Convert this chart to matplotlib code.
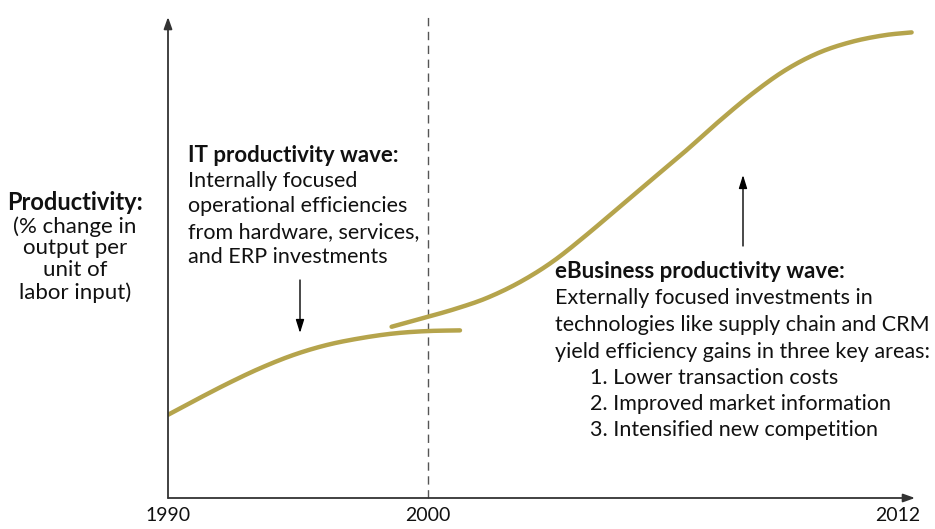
import matplotlib
matplotlib.use("Agg")
import matplotlib.pyplot as plt
import numpy as np

plt.rcParams['font.family'] = ['Lato', 'DejaVu Sans']

# --- data (x in position units: 1990 = 0, 2000 = 10, 2012 ~ 28) ---
it_x = [0.00, 0.97, 2.26, 3.54, 4.82, 6.10, 7.38, 8.67, 9.95, 11.23]
it_y = [17.3, 20.1, 23.7, 26.97, 29.73, 31.8, 33.2, 34.2, 34.7, 34.85]

eb_x = [8.60, 9.95, 11.10, 12.27, 13.54, 14.81, 16.12, 17.38, 18.65, 19.92,
        21.19, 22.46, 23.73, 25.00, 26.27, 27.54, 28.60]
eb_y = [35.6, 37.6, 39.4, 41.6, 44.9, 49.2, 54.8, 60.6, 66.4, 72.2,
        78.3, 84.0, 88.9, 92.5, 94.8, 96.2, 96.8]

tick_pos = [0, 10, 28.05]
tick_labels = ["1990", "2000", "2012"]

ylabel_lines = ["(% change in", "output per", "unit of", "labor input)"]
it_title = "IT productivity wave:"
it_lines = ["Internally focused", "operational efficiencies",
            "from hardware, services,", "and ERP investments"]
eb_title = "eBusiness productivity wave:"
eb_lines = ["Externally focused investments in",
            "technologies like supply chain and CRM",
            "yield efficiency gains in three key areas:"]
eb_items = ["1. Lower transaction costs", "2. Improved market information",
            "3. Intensified new competition"]


def smooth(xs, ys, n=20):
    """Catmull-Rom rendering through the read points (for drawing only)."""
    p = np.column_stack([xs, ys]).astype(float)
    p = np.vstack([2 * p[0] - p[1], p, 2 * p[-1] - p[-2]])
    out = []
    t = np.linspace(0, 1, n, endpoint=False)[:, None]
    for i in range(1, len(p) - 2):
        p0, p1, p2, p3 = p[i - 1], p[i], p[i + 1], p[i + 2]
        seg = 0.5 * ((2 * p1) + (-p0 + p2) * t +
                     (2 * p0 - 5 * p1 + 4 * p2 - p3) * t ** 2 +
                     (-p0 + 3 * p1 - 3 * p2 + p3) * t ** 3)
        out.append(seg)
    out.append(p[-2][None, :])
    out = np.vstack(out)
    return out[:, 0], out[:, 1]


curve_color = "#B5A44C"
txt = "#111111"
W, H = 935, 529
fig = plt.figure(figsize=(W / 100, H / 100), dpi=100)
ax = fig.add_axes([168 / W, (H - 498) / H, (915 - 168) / W, (498 - 17) / H])
ax.set_xlim(0, (915 - 168) / 26)
ax.set_ylim(0, 100)
for s in ax.spines.values():
    s.set_visible(False)
ax.set_xticks([])
ax.set_yticks([])

# axes with arrows
axis_col = "#333333"
arr = dict(arrowstyle="-|>,head_length=0.7,head_width=0.25",
           color=axis_col, lw=1.3, shrinkA=0, shrinkB=0)
ax.annotate("", xy=(1.0, 0), xytext=(0, 0), xycoords="axes fraction",
            arrowprops=arr)
ax.annotate("", xy=(0, 1.0), xytext=(0, 0), xycoords="axes fraction",
            arrowprops=arr)

# dashed 2000 line
ax.plot([10, 10], [0, 100.4], color="#555555", lw=1.0, dashes=(6, 4),
        clip_on=False)

# curves
for xs, ys in ((it_x, it_y), (eb_x, eb_y)):
    sx, sy = smooth(xs, ys)
    ax.plot(sx, sy, color=curve_color, lw=3.2, solid_capstyle="round",
            solid_joinstyle="round")

# tick labels
for p, lab in zip(tick_pos, tick_labels):
    ax.text(p, -3.6, lab, ha="center", va="center", fontsize=14, color=txt,
            clip_on=False)


def px(xp, yp):
    return ((xp - 168) / 26, (498 - yp) / 4.81)


REG = 15.5
BOLD = 16

# left y label
x0, y0 = px(75, 203)
ax.text(x0, y0, "Productivity:", ha="center", va="center", fontsize=17,
        fontweight="bold", color=txt, clip_on=False)
for i, line in enumerate(ylabel_lines):
    xx, yy = px(75, 226.5 + 22 * i)
    ax.text(xx, yy, line, ha="center", va="center", fontsize=16, color=txt,
            clip_on=False)

# IT text
xx, yy = px(188, 156)
ax.text(xx, yy, it_title, ha="left", va="center", fontsize=BOLD,
        fontweight="bold", color=txt)
for i, line in enumerate(it_lines):
    xx, yy = px(188, 181 + 25.5 * i)
    ax.text(xx, yy, line, ha="left", va="center", fontsize=REG, color=txt)

# eBusiness text
xx, yy = px(555, 272)
ax.text(xx, yy, eb_title, ha="left", va="center", fontsize=BOLD,
        fontweight="bold", color=txt)
for i, line in enumerate(eb_lines):
    xx, yy = px(555, 298.5 + 26.5 * i)
    ax.text(xx, yy, line, ha="left", va="center", fontsize=REG, color=txt)
for i, line in enumerate(eb_items):
    xx, yy = px(590, 378 + 26 * i)
    ax.text(xx, yy, line, ha="left", va="center", fontsize=REG, color=txt)

# annotation arrows
ap = dict(arrowstyle="-|>,head_length=0.8,head_width=0.25", color="black",
          lw=1.0, shrinkA=0, shrinkB=0)
ax.annotate("", xy=px(300, 333), xytext=px(300, 280), arrowprops=ap)
ax.annotate("", xy=px(743, 175), xytext=px(743, 246), arrowprops=ap)

fig.savefig("out.png", dpi=100)
